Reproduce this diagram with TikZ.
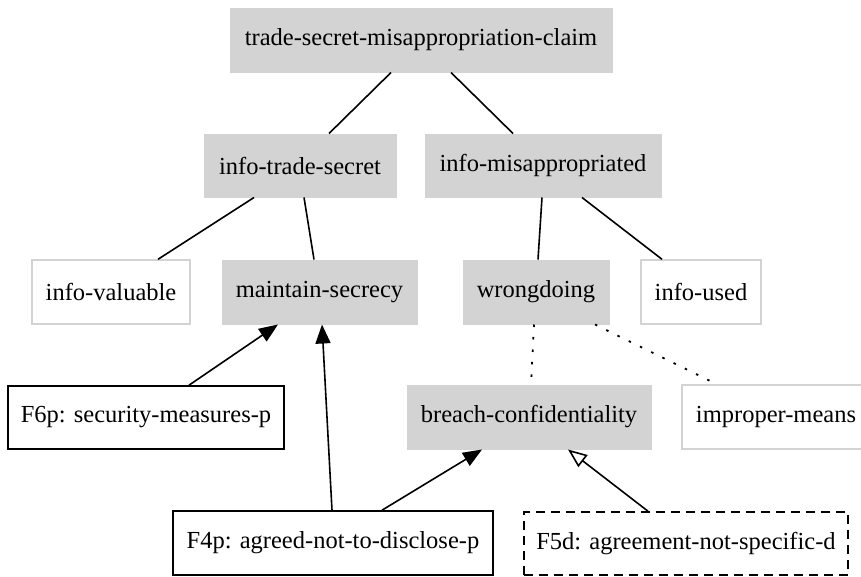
\documentclass[tikz,border=0pt]{standalone}
\usepackage{fontspec}
\setmainfont{Liberation Serif}
\usetikzlibrary{arrows.meta}
\definecolor{gvgray}{HTML}{D3D3D3}
\tikzset{
  gbox/.style={rectangle, fill=gvgray, draw=gvgray, line width=1pt, inner sep=0pt, minimum height=64pt, font=\fontsize{24.5pt}{28pt}\selectfont},
  wbox/.style={rectangle, fill=white, draw=gvgray, line width=1.4pt, inner sep=0pt, minimum height=64pt, font=\fontsize{24.5pt}{28pt}\selectfont},
  fbox/.style={rectangle, fill=white, draw=black, line width=1.6pt, inner sep=0pt, minimum height=63pt, font=\fontsize{24.5pt}{28pt}\selectfont},
  link/.style={draw=black, line width=1.6pt},
  dotlink/.style={draw=black, line width=1.8pt, dash pattern=on 2.5pt off 10pt},
  sup/.style={draw=black, line width=1.6pt, -{Triangle[length=19pt,width=15pt]}},
  osup/.style={draw=black, line width=1.6pt, -{Triangle[open,length=19pt,width=15pt,line width=1.6pt]}}
}
\begin{document}
\begin{tikzpicture}[x=1pt,y=-1pt]
\path[use as bounding box, clip] (0,0) rectangle (861,576);
\fill[white] (0,0) rectangle (861,576);
\node[gbox, minimum width=382pt] (top) at (421,40) {trade-secret-misappropriation-claim};
\node[gbox, minimum width=192pt, minimum height=63pt] (its) at (300,165.5) {info-trade-secret};
\node[gbox, minimum width=236pt, minimum height=63pt] (imis) at (543,165.5) {info-misappropriated};
\node[wbox, minimum width=158pt] (iv) at (111,292) {info-valuable};
\node[gbox, minimum width=195pt] (ms) at (319.5,292) {maintain-secrecy};
\node[gbox, minimum width=146pt] (wrong) at (536,292) {wrongdoing};
\node[wbox, minimum width=120pt] (iused) at (701,292) {info-used};
\node[fbox, minimum width=276pt] (f6p) at (146,417.5) {F6p: security-measures-p};
\node[gbox, minimum width=244pt] (breach) at (529,417) {breach-confidentiality};
\node[wbox, minimum width=188pt] (improper) at (776,417) {improper-means};
\node[fbox, minimum width=320pt, minimum height=64pt] (f4p) at (333,543) {F4p: agreed-not-to-disclose-p};
\node[fbox, dashed, dash pattern=on 9pt off 6pt, minimum width=324pt] (f5d) at (686,543.5) {F5d: agreement-not-specific-d};

\draw[link] ([xshift=-30pt]top.south) -- ([xshift=29pt]its.north);
\draw[link] ([xshift=30pt]top.south) -- ([xshift=-30pt]imis.north);
\draw[link] ([xshift=-46pt]its.south) -- ([xshift=47pt]iv.north);
\draw[link] ([xshift=4pt]its.south) -- ([xshift=-5.5pt]ms.north);
\draw[link] ([xshift=-1pt]imis.south) -- ([xshift=2pt]wrong.north);
\draw[link] ([xshift=39pt]imis.south) -- ([xshift=-39pt]iused.north);
\draw[dotlink] ([xshift=-2pt]wrong.south) -- ([xshift=2pt]breach.north);
\draw[dotlink] ([xshift=59pt]wrong.south) -- ([xshift=-59pt]improper.north);
\draw[sup] ([xshift=43pt]f6p.north) -- ([xshift=-41.5pt]ms.south);
\draw[sup] ([xshift=-1pt]f4p.north) -- ([xshift=2.5pt]ms.south);
\draw[sup] ([xshift=49pt]f4p.north) -- ([xshift=-47pt]breach.south);
\draw[osup] ([xshift=-38pt]f5d.north) -- ([xshift=39pt]breach.south);
\end{tikzpicture}
\end{document}
